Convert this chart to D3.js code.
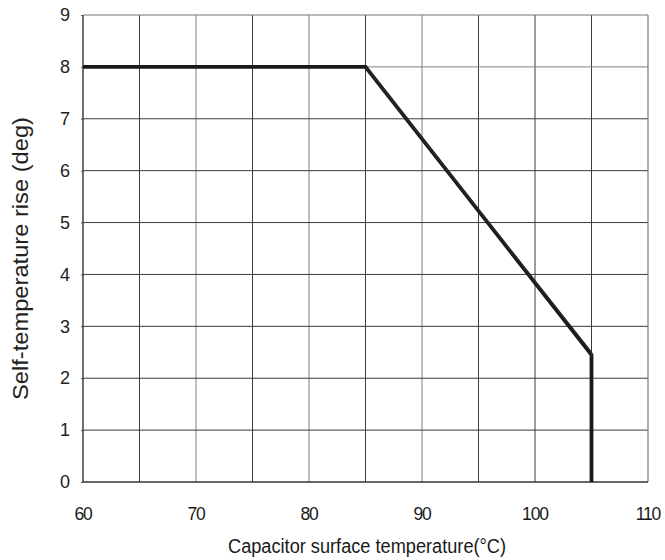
<!DOCTYPE html>
<html>
<head>
<meta charset="utf-8">
<script src="https://cdn.jsdelivr.net/npm/d3@7"></script>
<style>
  html, body { margin: 0; padding: 0; background: #fff; }
  svg { display: block; }
</style>
</head>
<body>
<svg id="chart" width="665" height="560"></svg>
<script>
// Derating curve: allowed self-temperature rise vs. capacitor surface temperature
const curveTemp = [60, 85, 105, 105];
const curveRise = [8, 8, 2.45, 0];
// thin companion trace along the sloped segment
const edgeTemp = [85, 105, 105];
const edgeRise = [8, 2.5, 2.4];

const xTicks = [60, 70, 80, 90, 100, 110];
const xGrid = [65, 70, 75, 80, 85, 90, 95, 100, 105];
const yTicks = [0, 1, 2, 3, 4, 5, 6, 7, 8, 9];

const xTitle = "Capacitor surface temperature(°C)";
const yTitle = "Self-temperature rise (deg)";

const svg = d3.select("#chart");
const plotL = 83, plotR = 648, plotT = 15, plotB = 482;

const x = d3.scaleLinear().domain([60, 110]).range([plotL, plotR]);
const y = d3.scaleLinear().domain([0, 9]).range([plotB, plotT]);

// vertical grid
svg.append("g").selectAll("line").data(xGrid).join("line")
  .attr("x1", d => x(d)).attr("x2", d => x(d))
  .attr("y1", plotT).attr("y2", plotB)
  .attr("stroke", d => (d % 10 === 0 && d !== 100) ? "#808080" : "#3a3a3a")
  .attr("stroke-width", 1);

// horizontal grid
svg.append("g").selectAll("line").data(yTicks.slice(1, -1)).join("line")
  .attr("x1", plotL).attr("x2", plotR)
  .attr("y1", d => y(d)).attr("y2", d => y(d))
  .attr("stroke", d => d === 8 ? "#808080" : "#3a3a3a")
  .attr("stroke-width", 1);

// frame
svg.append("line").attr("x1", plotL).attr("x2", plotR).attr("y1", plotT).attr("y2", plotT)
  .attr("stroke", "#777").attr("stroke-width", 1.2);
svg.append("line").attr("x1", plotR).attr("x2", plotR).attr("y1", plotT).attr("y2", plotB)
  .attr("stroke", "#777").attr("stroke-width", 1.2);
svg.append("line").attr("x1", plotL).attr("x2", plotR).attr("y1", plotB).attr("y2", plotB)
  .attr("stroke", "#333").attr("stroke-width", 1.4);
svg.append("line").attr("x1", plotL).attr("x2", plotL).attr("y1", plotT).attr("y2", plotB)
  .attr("stroke", "#333").attr("stroke-width", 1.4);

// y ticks and labels
const yAxis = d3.axisLeft(y).tickValues(yTicks).tickSize(2).tickPadding(11).tickFormat(d3.format("d"));
const gy = svg.append("g").attr("transform", `translate(${plotL},0)`).call(yAxis);
gy.select(".domain").remove();
gy.selectAll(".tick line").attr("stroke", "#555");
gy.selectAll("text")
  .attr("font-family", "Liberation Sans, Arial, sans-serif")
  .attr("font-size", 18).attr("fill", "#222");

// x labels (tightly set)
const xAxis = d3.axisBottom(x).tickValues(xTicks).tickSize(0).tickPadding(0).tickFormat(d3.format("d"));
const gx = svg.append("g").attr("transform", `translate(0,${plotB})`).call(xAxis);
gx.select(".domain").remove();
gx.selectAll("text")
  .attr("y", 37.5).attr("dy", null)
  .attr("font-family", "Liberation Sans, Arial, sans-serif")
  .attr("font-size", 17.5).attr("fill", "#1a1a1a")
  .attr("letter-spacing", -1.2)
  .attr("dx", -0.6);

// curve
const line = d3.line().x(d => x(d[0])).y(d => y(d[1]));
svg.append("path")
  .datum(curveTemp.map((t, i) => [t, curveRise[i]]))
  .attr("d", line).attr("fill", "none")
  .attr("stroke", "#1a1a1a").attr("stroke-width", 3.8)
  .attr("stroke-linejoin", "miter");
svg.append("path")
  .datum(edgeTemp.map((t, i) => [t, edgeRise[i]]))
  .attr("d", line).attr("fill", "none")
  .attr("stroke", "#2a2a2a").attr("stroke-width", 1.4);

// axis titles
svg.append("text")
  .attr("x", 228).attr("y", 553)
  .attr("text-anchor", "start")
  .attr("font-family", "Liberation Sans, Arial, sans-serif")
  .attr("font-size", 20).attr("fill", "#1a1a1a")
  .attr("textLength", 278).attr("lengthAdjust", "spacingAndGlyphs")
  .text(xTitle);

svg.append("text")
  .attr("transform", `translate(28,400) rotate(-90)`)
  .attr("text-anchor", "start")
  .attr("font-family", "Liberation Sans, Arial, sans-serif")
  .attr("font-size", 21.5).attr("fill", "#222")
  .attr("textLength", 283).attr("lengthAdjust", "spacingAndGlyphs")
  .text(yTitle);
</script>
</body>
</html>
